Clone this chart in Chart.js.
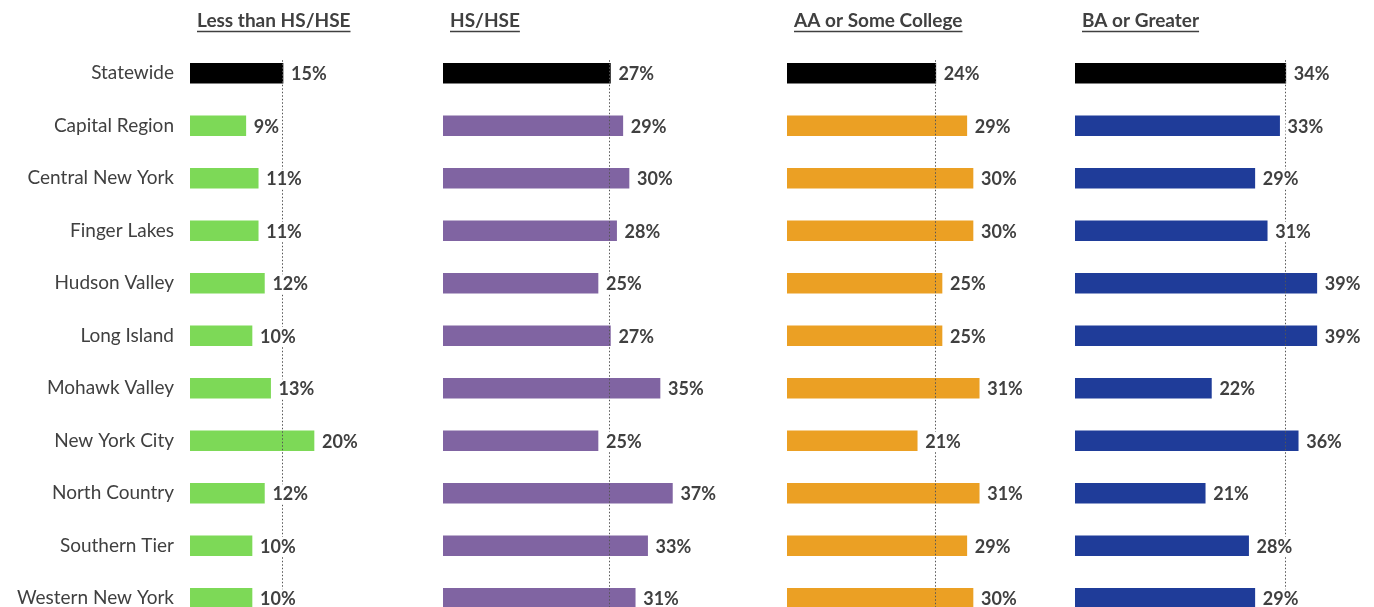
<!DOCTYPE html>
<html>
<head>
<meta charset="utf-8">
<script src="https://cdn.jsdelivr.net/npm/chart.js@4.4.1/dist/chart.umd.min.js"></script>
<style>
  html, body { margin: 0; padding: 0; background: #fff; overflow: hidden; width: 1374px; height: 607px; }
  .panel { position: absolute; top: 0; height: 655px; }
</style>
</head>
<body>
<div class="panel" style="left:0;width:498px"><canvas id="c0"></canvas></div>
<div class="panel" style="left:443px;width:308px"><canvas id="c1"></canvas></div>
<div class="panel" style="left:787px;width:308px"><canvas id="c2"></canvas></div>
<div class="panel" style="left:1075px;width:308px"><canvas id="c3"></canvas></div>
<script>
const regions = ['Statewide', 'Capital Region', 'Central New York', 'Finger Lakes', 'Hudson Valley',
  'Long Island', 'Mohawk Valley', 'New York City', 'North Country', 'Southern Tier', 'Western New York'];

const titles = ['Less than HS/HSE', 'HS/HSE', 'AA or Some College', 'BA or Greater'];

const lessThanHS = [15, 9, 11, 11, 12, 10, 13, 20, 12, 10, 10];
const hsHse = [27, 29, 30, 28, 25, 27, 35, 25, 37, 33, 31];
const aaSomeCollege = [24, 29, 30, 30, 25, 25, 31, 21, 31, 29, 30];
const baOrGreater = [34, 33, 29, 31, 39, 39, 22, 36, 21, 28, 29];

const colors = ['#7dd957', '#8064a2', '#eba024', '#1f3c99'];
const textColor = '#404040';
const fontFamily = 'Lato, "Liberation Sans", sans-serif';

// dotted statewide line, then value labels on white boxes, then the underlined title
const panelDeco = {
  id: 'panelDeco',
  afterDatasetsDraw(chart, args, opts) {
    const ctx = chart.ctx;
    const xs = chart.scales.x;
    const ys = chart.scales.y;
    const vals = chart.data.datasets[0].data;
    const area = chart.chartArea;

    ctx.save();
    const lx = Math.round(xs.getPixelForValue(vals[0])) - 0.5;
    ctx.strokeStyle = '#555';
    ctx.lineWidth = 1;
    ctx.setLineDash([1.5, 2]);
    ctx.beginPath();
    ctx.moveTo(lx, ys.getPixelForValue(0) - 13);
    ctx.lineTo(lx, area.bottom + 20);
    ctx.stroke();
    ctx.setLineDash([]);

    ctx.font = 'bold 18px ' + fontFamily;
    ctx.textBaseline = 'middle';
    ctx.textAlign = 'left';
    vals.forEach((v, i) => {
      const x = xs.getPixelForValue(v) + 8;
      const y = ys.getPixelForValue(i) + 1;
      const txt = v + '%';
      const w = ctx.measureText(txt).width;
      ctx.fillStyle = '#fff';
      ctx.fillRect(x - 2, y - 10, w + 4, 20);
      ctx.fillStyle = textColor;
      ctx.fillText(txt, x, y);
    });

    ctx.font = 'bold 19px ' + fontFamily;
    ctx.textBaseline = 'alphabetic';
    const tx = area.left + 7;
    ctx.fillStyle = textColor;
    ctx.fillText(opts.text, tx, 27);
    const tw = ctx.measureText(opts.text).width;
    ctx.strokeStyle = textColor;
    ctx.lineWidth = 1.5;
    ctx.beginPath();
    ctx.moveTo(tx, 31.5);
    ctx.lineTo(tx + tw, 31.5);
    ctx.stroke();
    ctx.restore();
  }
};

function makePanel(id, values, color, title, showLabels) {
  const bg = values.map((v, i) => i === 0 ? '#000000' : color);
  const yAxis = {
    display: showLabels,
    grid: { display: false, drawTicks: false },
    border: { display: false },
    ticks: { color: textColor, padding: 16, font: { family: fontFamily, size: 19 } }
  };
  if (showLabels) {
    yAxis.afterFit = function (scale) { scale.width = 190; };
  }
  return new Chart(document.getElementById(id), {
    type: 'bar',
    data: {
      labels: regions,
      datasets: [{ data: values, backgroundColor: bg, barThickness: 20, borderWidth: 0 }]
    },
    options: {
      indexAxis: 'y',
      responsive: true,
      maintainAspectRatio: false,
      animation: false,
      layout: { padding: { top: 47, bottom: 30.5, left: 0, right: 60 } },
      scales: {
        x: { min: 0, max: 40, display: false },
        y: yAxis
      },
      plugins: {
        legend: { display: false },
        tooltip: { enabled: false },
        panelDeco: { text: title }
      }
    },
    plugins: [panelDeco]
  });
}

makePanel('c0', lessThanHS, colors[0], titles[0], true);
makePanel('c1', hsHse, colors[1], titles[1], false);
makePanel('c2', aaSomeCollege, colors[2], titles[2], false);
makePanel('c3', baOrGreater, colors[3], titles[3], false);
</script>
</body>
</html>
